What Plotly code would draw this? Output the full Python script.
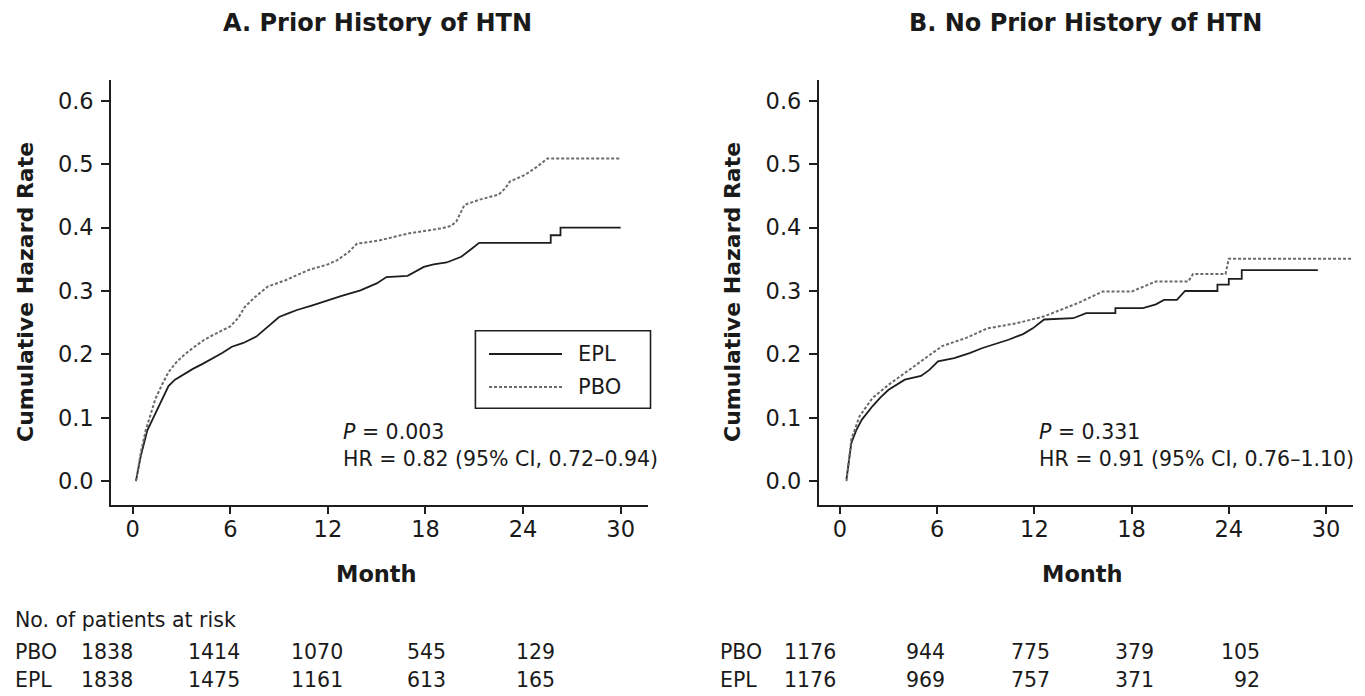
import plotly.graph_objects as go

W, H = 1365, 696

# ---------------- data ----------------
# Panel A: Prior history of HTN
a_epl_month = [0.2, 0.5, 0.9, 1.4, 1.8, 2.2, 2.6, 3.2, 3.7, 4.3, 4.8, 5.5, 6.1, 6.8, 7.6, 8.3, 9.0, 9.6,
               10.1, 11.0, 11.7, 12.8, 14.0, 15.0, 15.6, 16.9, 17.9, 18.5, 19.3, 20.2, 20.8, 21.3,
               25.7, 25.7, 26.3, 26.3, 30.0]
a_epl_rate = [0.0, 0.04, 0.08, 0.108, 0.13, 0.15, 0.16, 0.17, 0.177, 0.185, 0.192, 0.202, 0.212, 0.218,
              0.228, 0.243, 0.259, 0.265, 0.27, 0.277, 0.283, 0.292, 0.301, 0.312, 0.322, 0.324, 0.338,
              0.342, 0.345, 0.354, 0.366, 0.376, 0.376, 0.388, 0.388, 0.4, 0.4]
a_pbo_month = [0.2, 0.5, 0.8, 1.1, 1.4, 1.8, 2.2, 2.7, 3.2, 3.8, 4.4, 5.2, 6.0, 6.5, 6.9, 7.5, 8.3, 9.4,
               10.8, 12.0, 12.6, 13.3, 13.8, 14.5, 15.2, 16.0, 17.0, 18.0, 19.0, 19.6, 19.9, 20.4,
               21.3, 22.5, 22.9, 23.2, 24.1, 24.8, 25.5, 30.0]
a_pbo_rate = [0.0, 0.045, 0.08, 0.105, 0.13, 0.152, 0.172, 0.188, 0.2, 0.212, 0.223, 0.234, 0.244, 0.258,
              0.275, 0.29, 0.307, 0.317, 0.333, 0.342, 0.349, 0.362, 0.375, 0.377, 0.38, 0.385, 0.391,
              0.395, 0.399, 0.403, 0.41, 0.436, 0.444, 0.452, 0.462, 0.473, 0.483, 0.495, 0.509, 0.509]

# Panel B: No prior history of HTN
b_epl_month = [0.4, 0.7, 1.0, 1.35, 2.0, 2.5, 3.0, 4.0, 5.0, 5.5, 6.05, 7.05, 8.0, 8.8, 10.4, 11.3, 11.9,
               12.6, 14.4, 15.2, 17.0, 17.0, 18.7, 19.5, 20.0, 20.8, 21.3, 23.3, 23.3, 24.0, 24.0,
               24.8, 24.8, 29.5]
b_epl_rate = [0.003, 0.06, 0.08, 0.097, 0.118, 0.132, 0.144, 0.16, 0.166, 0.175, 0.189, 0.194, 0.202, 0.21,
              0.223, 0.232, 0.241, 0.255, 0.257, 0.265, 0.265, 0.273, 0.273, 0.279, 0.286, 0.286, 0.3,
              0.3, 0.31, 0.31, 0.319, 0.319, 0.333, 0.333]
b_pbo_month = [0.4, 0.7, 1.2, 2.0, 3.0, 4.3, 5.3, 6.3, 7.8, 9.1, 10.9, 12.6, 14.7, 15.5, 16.2, 18.0, 18.6,
               19.5, 21.5, 21.8, 23.8, 24.0, 31.6]
b_pbo_rate = [0.0, 0.066, 0.102, 0.131, 0.152, 0.176, 0.194, 0.213, 0.226, 0.241, 0.249, 0.26, 0.281, 0.29,
              0.299, 0.299, 0.305, 0.315, 0.315, 0.327, 0.327, 0.351, 0.351]

x_ticks = [0, 6, 12, 18, 24, 30]
y_ticks = [0.0, 0.1, 0.2, 0.3, 0.4, 0.5, 0.6]
y_ticklabels = ["0.0", "0.1", "0.2", "0.3", "0.4", "0.5", "0.6"]

risk_groups = ["PBO", "EPL"]
a_risk_pbo = [1838, 1414, 1070, 545, 129]
a_risk_epl = [1838, 1475, 1161, 613, 165]
b_risk_pbo = [1176, 944, 775, 379, 105]
b_risk_epl = [1176, 969, 757, 371, 92]

a_stats = ["<i>P</i> = 0.003", "HR = 0.82 (95% CI, 0.72–0.94)"]
b_stats = ["<i>P</i> = 0.331", "HR = 0.91 (95% CI, 0.76–1.10)"]

# ---------------- helpers (screen px -> paper) ----------------
def px(x):
    return x / W

def py(y):
    return 1 - y / H

FONT = "DejaVu Sans"
TXT = "#1a1a1a"
EPL_STYLE = dict(color="#1e1e1e", width=1.8)
PBO_STYLE = dict(color="#6a6a6a", width=2.0, dash="3px,2px")

fig = go.Figure()
fig.add_trace(go.Scatter(x=a_epl_month, y=a_epl_rate, mode="lines", line=EPL_STYLE, name="EPL",
                         xaxis="x", yaxis="y", showlegend=False))
fig.add_trace(go.Scatter(x=a_pbo_month, y=a_pbo_rate, mode="lines", line=PBO_STYLE, name="PBO",
                         xaxis="x", yaxis="y", showlegend=False))
fig.add_trace(go.Scatter(x=b_epl_month, y=b_epl_rate, mode="lines", line=EPL_STYLE, name="EPL",
                         xaxis="x2", yaxis="y2", showlegend=False))
fig.add_trace(go.Scatter(x=b_pbo_month, y=b_pbo_rate, mode="lines", line=PBO_STYLE, name="PBO",
                         xaxis="x2", yaxis="y2", showlegend=False))

ydom = [py(504.5), py(80)]
xaxis_common = dict(tickvals=x_ticks, ticktext=[str(t) for t in x_ticks], ticks="outside", ticklen=8,
                    tickwidth=1.6, tickcolor="#1e1e1e", showline=True, linecolor="#1e1e1e", linewidth=1.6,
                    showgrid=False, zeroline=False, tickfont=dict(family=FONT, size=22.5, color=TXT),
                    ticklabelstandoff=-4)
yaxis_common = dict(tickvals=y_ticks, ticktext=y_ticklabels, ticks="outside", ticklen=8, tickwidth=1.6,
                    tickcolor="#1e1e1e", showline=True, linecolor="#1e1e1e", linewidth=1.6, showgrid=False,
                    zeroline=False, range=[-0.037, 0.633], domain=ydom,
                    tickfont=dict(family=FONT, size=22.5, color=TXT), ticklabelstandoff=3)

fig.update_layout(
    width=W, height=H, margin=dict(l=0, r=0, t=0, b=0),
    paper_bgcolor="white", plot_bgcolor="white", showlegend=False,
    xaxis=dict(domain=[px(111), px(648)], range=[-1.334, 31.68], anchor="y", **xaxis_common),
    yaxis=dict(anchor="x", **yaxis_common),
    xaxis2=dict(domain=[px(818.7), px(1352.7)], range=[-1.315, 31.65], anchor="y2", **xaxis_common),
    yaxis2=dict(anchor="x2", **yaxis_common),
)

ann = []
# panel titles
ann.append(dict(text="<b>A. Prior History of HTN</b>", x=px(377), y=py(23), xref="paper", yref="paper",
                xanchor="center", yanchor="middle", showarrow=False, font=dict(family=FONT, size=24, color=TXT)))
ann.append(dict(text="<b>B. No Prior History of HTN</b>", x=px(1085), y=py(23), xref="paper", yref="paper",
                xanchor="center", yanchor="middle", showarrow=False, font=dict(family=FONT, size=24, color=TXT)))
# y-axis titles
for xc in (25, 732):
    ann.append(dict(text="<b>Cumulative Hazard Rate</b>", x=px(xc), y=py(292), xref="paper", yref="paper",
                    xanchor="center", yanchor="middle", textangle=-90, showarrow=False,
                    font=dict(family=FONT, size=22, color=TXT)))
# x-axis titles
for ax in ("x", "x2"):
    ann.append(dict(text="<b>Month</b>", x=15, y=py(574), xref=ax, yref="paper", xanchor="center",
                    yanchor="middle", showarrow=False, font=dict(family=FONT, size=22.5, color=TXT)))
# stats
for xl, stats in ((341, a_stats), (1036.5, b_stats)):
    for yy, t in zip((432, 459), stats):
        ann.append(dict(text=t, x=px(xl), y=py(yy), xref="paper", yref="paper", xanchor="left",
                        yanchor="middle", showarrow=False, font=dict(family=FONT, size=20.5, color=TXT)))

# legend (panel A)
shapes = [dict(type="rect", xref="paper", yref="paper", x0=px(475.4), x1=px(650.5), y0=py(408.3), y1=py(330.7),
               line=dict(color="#1e1e1e", width=1.6), fillcolor="white", layer="above")]
for yy, name, style in ((354, "EPL", EPL_STYLE), (387, "PBO", PBO_STYLE)):
    shapes.append(dict(type="line", xref="paper", yref="paper", x0=px(489), x1=px(562), y0=py(yy), y1=py(yy),
                       line=dict(color=style["color"], width=style["width"], dash=style.get("dash", "solid")),
                       layer="above"))
    ann.append(dict(text=name, x=px(576), y=py(yy), xref="paper", yref="paper", xanchor="left",
                    yanchor="middle", showarrow=False, font=dict(family=FONT, size=21, color=TXT)))

# at-risk table
ann.append(dict(text="No. of patients at risk", x=px(13), y=py(620), xref="paper", yref="paper",
                xanchor="left", yanchor="middle", showarrow=False, font=dict(family=FONT, size=20.5, color=TXT)))
a_cols = [135, 242, 345, 448, 557]
b_cols = [838, 947, 1052, 1156, 1262]
for label_x, cols, rows in ((13, a_cols, (a_risk_pbo, a_risk_epl)), (718, b_cols, (b_risk_pbo, b_risk_epl))):
    for yy, grp, vals in zip((652, 680), risk_groups, rows):
        ann.append(dict(text=grp, x=px(label_x), y=py(yy), xref="paper", yref="paper", xanchor="left",
                        yanchor="middle", showarrow=False, font=dict(family=FONT, size=20.5, color=TXT)))
        for cx, v in zip(cols, vals):
            ann.append(dict(text=str(v), x=px(cx), y=py(yy), xref="paper", yref="paper", xanchor="right",
                            yanchor="middle", showarrow=False, font=dict(family=FONT, size=20.5, color=TXT)))

fig.update_layout(annotations=ann, shapes=shapes)
fig.write_html(
    "out.html",
    config={"displayModeBar": False},
    post_script="document.body.style.margin='0';document.body.style.overflow='hidden';",
)
